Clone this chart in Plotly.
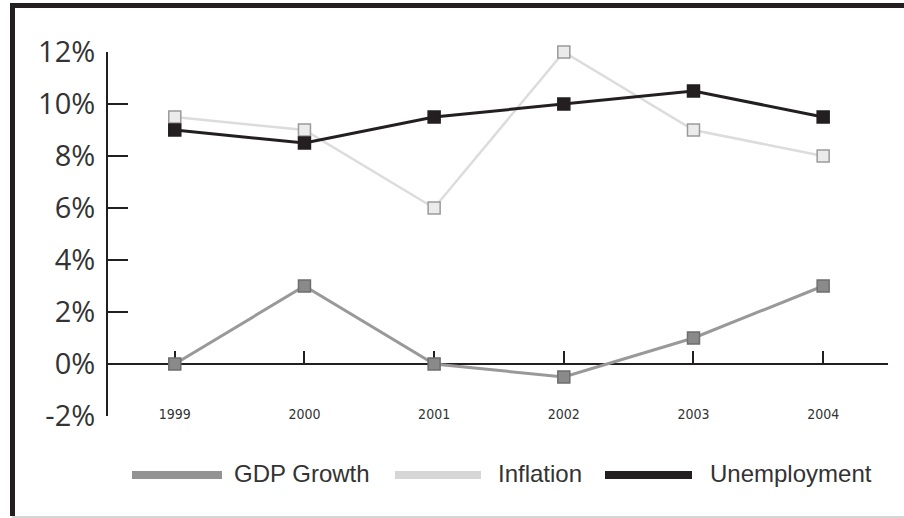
import plotly.graph_objects as go

years = ["1999", "2000", "2001", "2002", "2003", "2004"]
gdp_growth = [0, 3, 0, -0.5, 1, 3]
inflation = [9.5, 9, 6, 12, 9, 8]
unemployment = [9, 8.5, 9.5, 10, 10.5, 9.5]
y_ticks = [-2, 0, 2, 4, 6, 8, 10, 12]
y_tick_labels = ["-2%", "0%", "2%", "4%", "6%", "8%", "10%", "12%"]
series_names = ["GDP Growth", "Inflation", "Unemployment"]

W, H = 904, 518
L, R, T, B = 108, 888, 52, 416  # plot area in pixels

def px_x(px):
    return (px - L) / (R - L)

def px_y(py):
    return (B - py) / (B - T)

line_colors = ["#999999", "#dcdcdc", "#231f20"]
marker_fill = ["#8a8a8a", "#ebebeb", "#231f20"]
marker_edge = ["#6e6e6e", "#9a9a9a", "#231f20"]
line_widths = [3, 2.5, 3]
values = [gdp_growth, inflation, unemployment]

fig = go.Figure()
for i, name in enumerate(series_names):
    fig.add_trace(go.Scatter(
        x=years, y=values[i], name=name, mode="lines+markers",
        xaxis="x2" if i == 0 else "x",
        line=dict(color=line_colors[i], width=line_widths[i]),
        marker=dict(symbol="square", size=12, color=marker_fill[i],
                    line=dict(color=marker_edge[i], width=1.5)),
        showlegend=False, cliponaxis=False,
    ))

tick_font = dict(family="Open Sans, Liberation Sans, sans-serif", size=29, color="#333333")
year_font = dict(family="DejaVu Sans Condensed, Liberation Sans Narrow, sans-serif", size=14, color="#333333")

fig.update_layout(
    width=W, height=H,
    margin=dict(l=L, r=W - R, t=T, b=H - B),
    paper_bgcolor="white", plot_bgcolor="white",
    xaxis=dict(type="category", categoryarray=years, range=[-0.515, 5.5],
               showline=False, showgrid=False, zeroline=False, ticks="",
               tickfont=year_font, ticklabelstandoff=-12),
    xaxis2=dict(type="category", categoryarray=years, range=[-0.515, 5.5],
                overlaying="x", anchor="free", position=px_y(364),
                showline=True, linecolor="#231f20", linewidth=2,
                ticks="inside", ticklen=12, tickwidth=2, tickcolor="#231f20",
                showticklabels=False, showgrid=False, zeroline=False,
                layer="below traces"),
    yaxis=dict(range=[-2, 12], tickvals=y_ticks, ticktext=y_tick_labels,
               showline=True, linecolor="#231f20", linewidth=2,
               ticks="inside", ticklen=20, tickwidth=2, tickcolor="#231f20",
               showgrid=False, zeroline=False, tickfont=tick_font,
               ticklabelstandoff=5),
)

shapes = []
# outer frame pieces
shapes.append(dict(type="line", xref="paper", yref="paper",
                   x0=px_x(10), x1=px_x(904), y0=px_y(5.5), y1=px_y(5.5),
                   line=dict(color="#231f20", width=5)))
shapes.append(dict(type="line", xref="paper", yref="paper",
                   x0=px_x(12.5), x1=px_x(12.5), y0=px_y(3), y1=px_y(516),
                   line=dict(color="#231f20", width=5)))
shapes.append(dict(type="line", xref="paper", yref="paper",
                   x0=px_x(12), x1=px_x(904), y0=px_y(517), y1=px_y(517),
                   line=dict(color="#c8c8c8", width=1.5)))

# legend
legend_line_x = [(132, 222), (395, 481), (605, 692)]
legend_text_x = [232, 496, 708]
legend_colors = ["#939393", "#d6d6d6", "#231f20"]
annotations = []
for i, name in enumerate(series_names):
    x0, x1 = legend_line_x[i]
    shapes.append(dict(type="line", xref="paper", yref="paper",
                       x0=px_x(x0), x1=px_x(x1), y0=px_y(475), y1=px_y(475),
                       line=dict(color=legend_colors[i], width=8)))
    annotations.append(dict(xref="paper", yref="paper", x=px_x(legend_text_x[i]),
                            y=px_y(474), text=name, showarrow=False,
                            xanchor="left", yanchor="middle",
                            font=dict(family="Liberation Sans, Arial, sans-serif",
                                      size=24, color="#333333")))

fig.update_layout(shapes=shapes, annotations=annotations)
fig.write_html("out.html", config={"displayModeBar": False},
               post_script="document.body.style.margin='0';document.body.style.overflow='hidden';")
